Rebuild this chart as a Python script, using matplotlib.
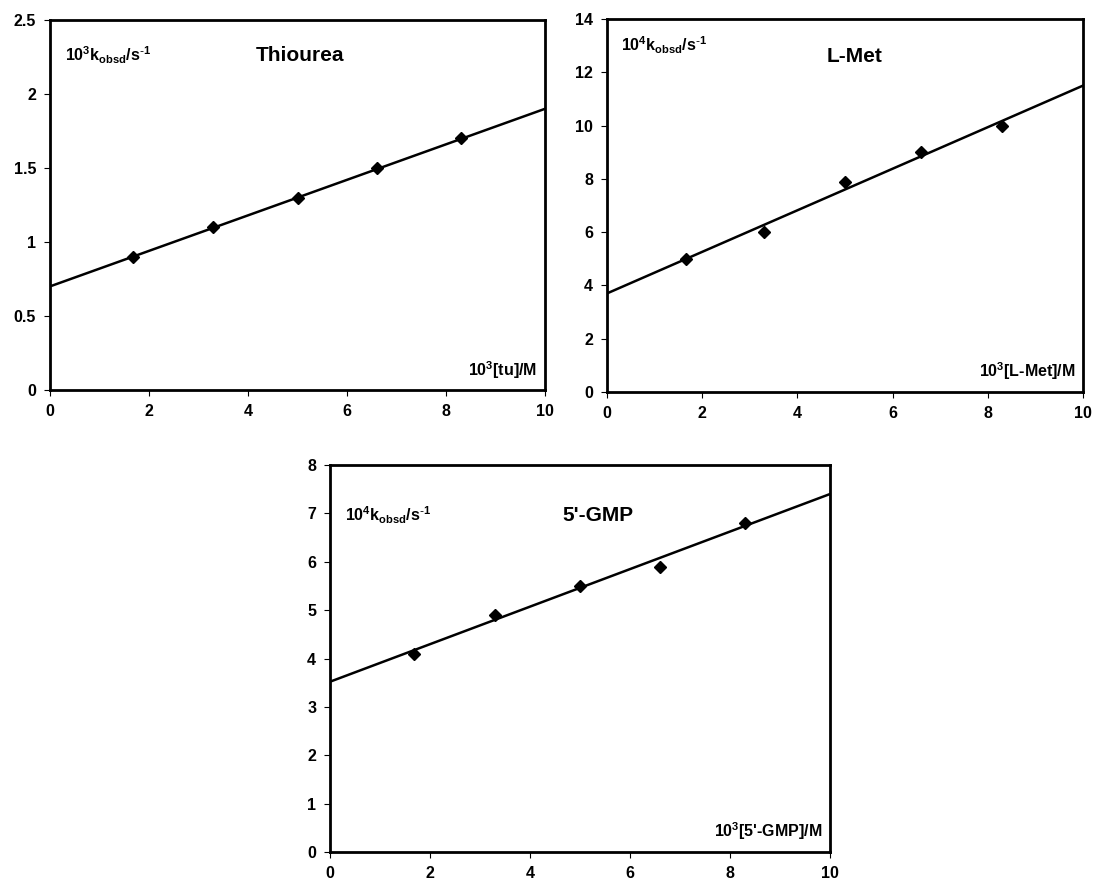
import matplotlib.pyplot as plt
import numpy as np

plt.rcParams["font.family"] = ["Liberation Sans", "DejaVu Sans"]
plt.rcParams["mathtext.default"] = "regular"

# concentrations (10^3 M) for every panel
conc = [1.67, 3.3, 5.0, 6.6, 8.3]

thiourea_k = [0.9, 1.1, 1.3, 1.5, 1.7]
lmet_k = [5.0, 6.0, 7.9, 9.0, 10.0]
gmp_k = [4.1, 4.9, 5.5, 5.9, 6.8]

# straight lines drawn in the original (intercept, slope)
thiourea_fit = (0.70, 0.120)
lmet_fit = (3.70, 0.780)
gmp_fit = (3.52, 0.388)

panels = [
    # name, k, fit, ymax, ystep, ylabel, xlabel, rect px, (ylab y, title x, title y)
    ("Thiourea", thiourea_k, thiourea_fit, 2.5, 0.5,
     r"10$^3$k$_{obsd}$/s$^{\text{-}1}$", r"10$^3$[tu]/M",
     [50, 20, 545, 390], (0.905, 0.505, 0.905)),
    ("L-Met", lmet_k, lmet_fit, 14, 2,
     r"10$^4$k$_{obsd}$/s$^{\text{-}1}$", r"10$^3$[L-Met]/M",
     [607, 19, 1083, 392], (0.93, 0.52, 0.9)),
    ("5'-GMP", gmp_k, gmp_fit, 8, 1,
     r"10$^4$k$_{obsd}$/s$^{\text{-}1}$", r"10$^3$[5'-GMP]/M",
     [330, 465, 830, 852], (0.87, 0.535, 0.87)),
]

W, H = 1095, 888
fig = plt.figure(figsize=(W / 100, H / 100), dpi=100)

for name, k, (b, m), ymax, ystep, ylab, xlab, (x0, y0, x1, y1), (ly, tx, ty) in panels:
    ax = fig.add_axes([x0 / W, 1 - y1 / H, (x1 - x0) / W, (y1 - y0) / H])
    xs = np.array([0, 10])
    ax.plot(xs, b + m * xs, color="black", lw=1.8)
    ax.plot(conc, k, ls="none", marker="D", ms=6.5, color="black")
    ax.set_xlim(0, 10)
    ax.set_ylim(0, ymax)
    yt = np.arange(0, ymax + ystep / 2, ystep)
    ax.set_xticks(np.arange(0, 11, 2))
    ax.set_yticks(yt)
    ax.set_yticklabels([f"{v:g}" for v in yt])
    for s in ax.spines.values():
        s.set_linewidth(2)
    ax.tick_params(direction="out", length=4, width=0.8, pad=6,
                   labelsize=11.5)
    for lbl in ax.get_xticklabels() + ax.get_yticklabels():
        lbl.set_fontweight("bold")
    ax.text(0.03, ly, ylab, transform=ax.transAxes, fontsize=11.5,
            fontweight="bold", va="center", ha="left")
    ax.text(tx, ty, name, transform=ax.transAxes, fontsize=15,
            fontweight="bold", va="center", ha="center")
    ax.text(0.985, 0.055, xlab, transform=ax.transAxes, fontsize=11.5,
            fontweight="bold", va="center", ha="right")

fig.savefig("out.png", dpi=100)
